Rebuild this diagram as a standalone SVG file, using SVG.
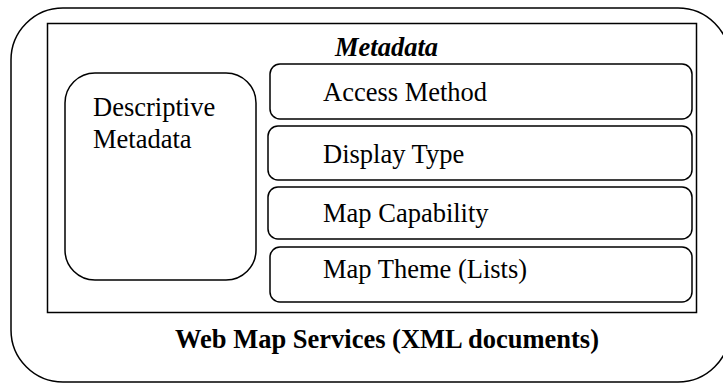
<svg xmlns="http://www.w3.org/2000/svg" width="723" height="383" viewBox="0 0 723 383">
<style>
.box{fill:#fff;stroke:#000;stroke-width:1.5}
.t{font-family:"Liberation Serif","Times New Roman",serif;font-size:26.5px;fill:#000}
.b{font-weight:bold}
.bi{font-weight:bold;font-style:italic}
</style>
<rect width="723" height="383" fill="#fff"/>
<g id="web-map-services">
<rect class="box" x="11" y="8" width="719" height="374" rx="52" ry="52"/>
<text class="t b" x="175" y="348">Web Map Services (XML documents)</text>
</g>
<g id="metadata">
<rect class="box" x="47.5" y="23.5" width="649" height="289"/>
<text class="t bi" x="335" y="56">Metadata</text>
</g>
<g id="descriptive-metadata">
<rect class="box" x="65" y="73" width="191" height="207" rx="30" ry="30"/>
<text class="t" x="93" y="116">Descriptive</text>
<text class="t" x="93" y="148">Metadata</text>
</g>
<g id="access-method">
<rect class="box" x="270" y="64" width="422" height="55" rx="10" ry="10"/>
<text class="t" x="323" y="101">Access Method</text>
</g>
<g id="display-type">
<rect class="box" x="268" y="126" width="424" height="54" rx="10" ry="10"/>
<text class="t" x="323" y="163">Display Type</text>
</g>
<g id="map-capability">
<rect class="box" x="268" y="187" width="424" height="52" rx="10" ry="10"/>
<text class="t" x="323" y="222">Map Capability</text>
</g>
<g id="map-theme">
<rect class="box" x="270" y="247" width="422" height="55" rx="10" ry="10"/>
<text class="t" x="323" y="278">Map Theme (Lists)</text>
</g>
<g id="connectors"></g>
</svg>
